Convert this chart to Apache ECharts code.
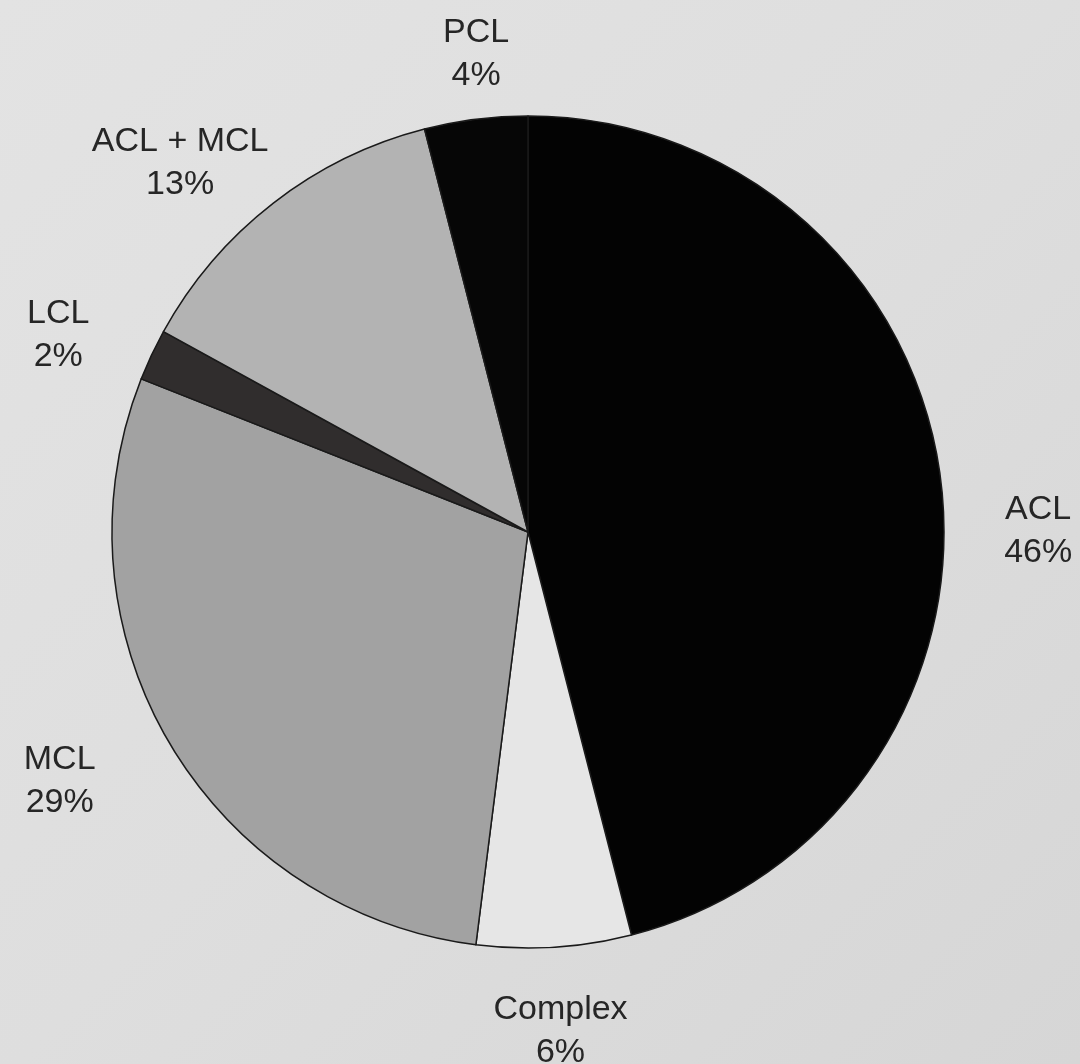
<!DOCTYPE html>
<html>
<head>
<meta charset="utf-8">
<script src="https://cdn.jsdelivr.net/npm/echarts@6/dist/echarts.min.js"></script>
<style>
html,body{margin:0;padding:0;}
#chart{width:1080px;height:1064px;}
</style>
</head>
<body>
<div id="chart"></div>
<script>
// Data
var categories = ['ACL', 'Complex', 'MCL', 'LCL', 'ACL + MCL', 'PCL'];
var percentages = [46, 6, 29, 2, 13, 4];

// Styles (kept separate from data)
var sliceColors = ['#030303', '#e6e6e6', '#a2a2a2', '#302d2d', '#b3b3b3', '#060606'];
var labelNudgeX = [23, -3, -45, -25, -45, 14];
var labelNudgeY = [60, 14, 2, 10, 15, 4];

var data = categories.map(function (name, i) {
  return { name: name, value: percentages[i], itemStyle: { color: sliceColors[i] } };
});

var chart = echarts.init(document.getElementById('chart'), null, { renderer: 'canvas' });
chart.setOption({
  backgroundColor: {
    type: 'linear', x: 0, y: 0, x2: 1, y2: 1,
    colorStops: [
      { offset: 0, color: '#e3e3e3' },
      { offset: 0.5, color: '#dedede' },
      { offset: 1, color: '#d6d6d6' }
    ]
  },
  animation: false,
  series: [{
    type: 'pie',
    center: [528, 532],
    radius: 416,
    startAngle: 90,
    clockwise: true,
    avoidLabelOverlap: false,
    data: data,
    itemStyle: { borderColor: '#1a1a1a', borderWidth: 1.5 },
    label: {
      show: true,
      position: 'outside',
      formatter: '{b}\n{c}%',
      fontFamily: 'Liberation Sans, Arial, sans-serif',
      fontSize: 34,
      lineHeight: 43,
      color: '#262626'
    },
    labelLine: { show: false, length: 70, length2: 0 },
    labelLayout: function (p) {
      return { align: 'center', verticalAlign: 'middle', dx: labelNudgeX[p.dataIndex], dy: labelNudgeY[p.dataIndex] };
    },
    emphasis: { disabled: true }
  }]
});
</script>
</body>
</html>
